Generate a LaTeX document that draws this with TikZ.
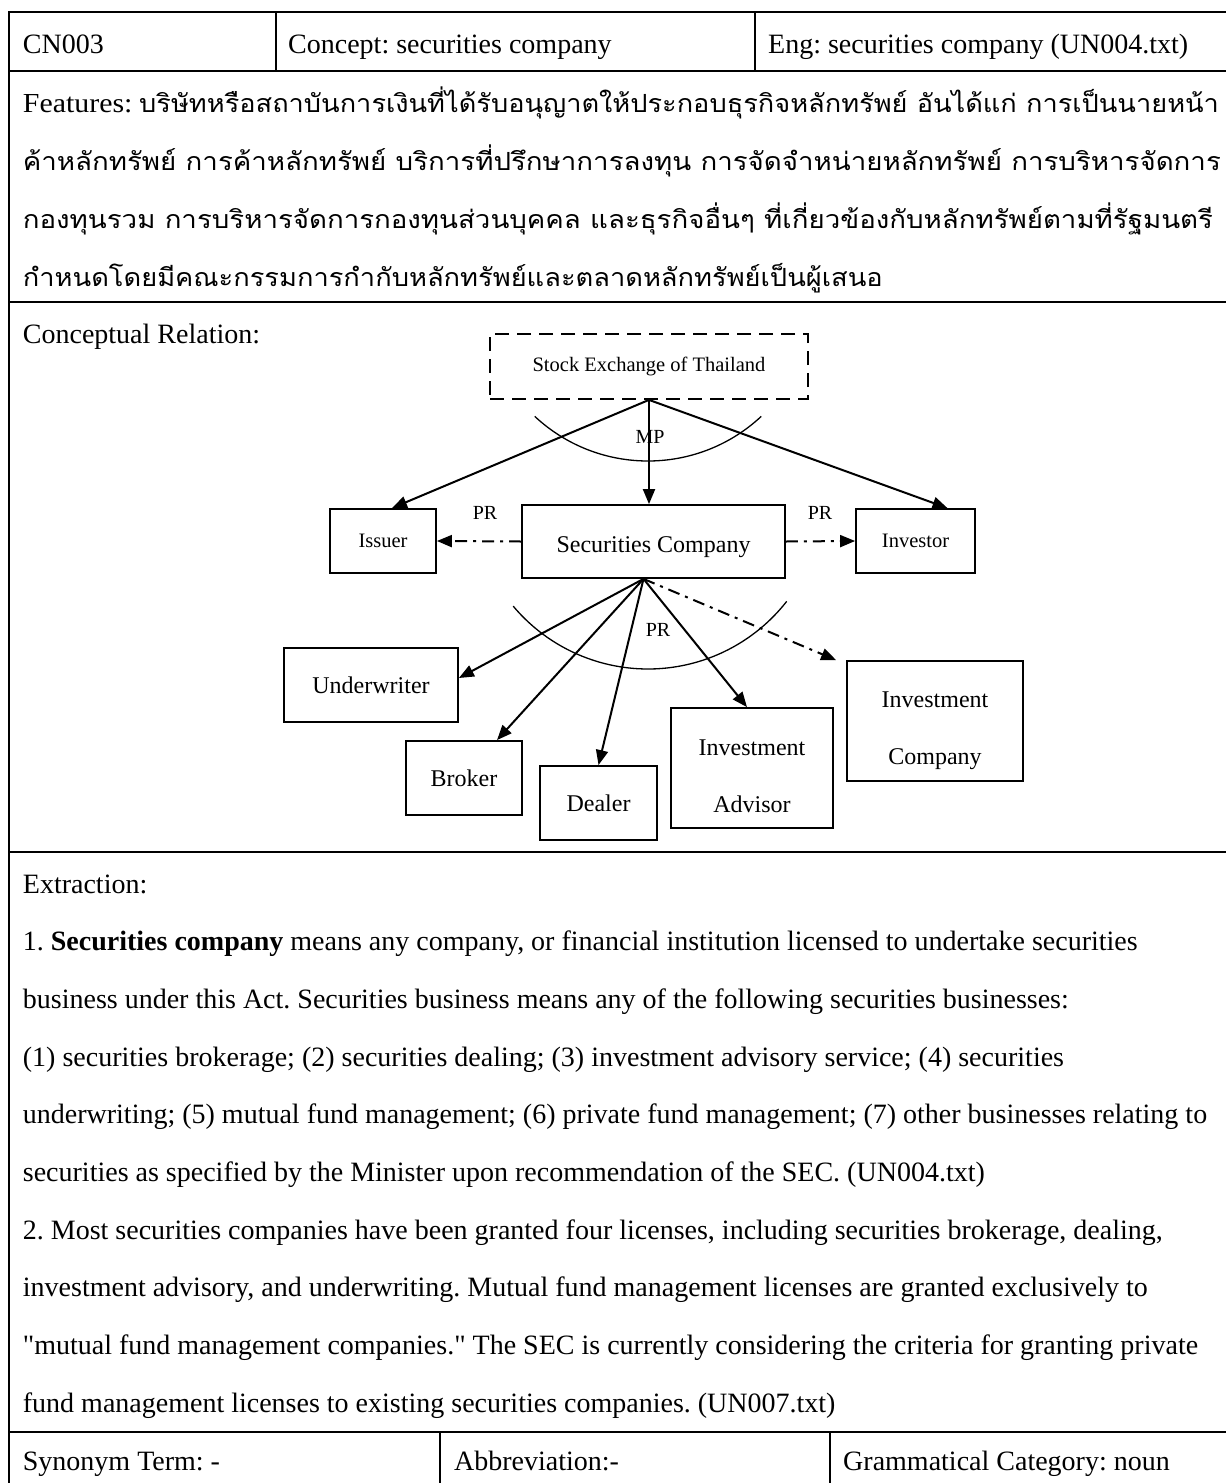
\documentclass[tikz,border=0pt]{standalone}
\usepackage{fontspec}
\usepackage{graphicx}
\setmainfont{Liberation Serif}[Ligatures=TeXOff]
\newfontfamily\thaifont[Script=Thai]{Loma}
\usetikzlibrary{arrows.meta}
\frenchspacing
\begin{document}
\begin{tikzpicture}[x=1pt,y=-1pt,
  tline/.style={line width=2.2pt},
  txt/.style={anchor=base west, inner sep=0pt, font=\fontsize{28}{33}\selectfont},
  thai/.style={anchor=base west, inner sep=0pt, font=\fontsize{25}{30}\selectfont},
  box/.style={draw, line width=1.8pt, inner sep=0pt, align=center, font=\fontsize{24}{57}\selectfont},
  sbox/.style={box, font=\fontsize{20.5}{25}\selectfont},
  btxt/.style={inner sep=0pt, align=center, font=\fontsize{24}{57}\selectfont},
  conn/.style={line width=2pt, -{Triangle[length=15pt,width=12pt]}},
  dd/.style={conn, dash pattern=on 12pt off 6pt on 3pt off 6pt},
  lbl/.style={inner sep=0pt, font=\fontsize{20}{24}\selectfont},
  arcline/.style={line width=1.3pt}
]
\useasboundingbox (0,0) rectangle (1226,1483);
% ---------- table frame ----------
\draw[tline] (9,12) -- (1230,12);
\draw[tline] (9,71) -- (1230,71);
\draw[tline] (9,302) -- (1230,302);
\draw[tline] (9,852) -- (1230,852);
\draw[tline] (9,1432) -- (1230,1432);
\draw[tline] (9,11) -- (9,1490);
\draw[tline] (276,12) -- (276,71);
\draw[tline] (755,12) -- (755,71);
\draw[tline] (440,1432) -- (440,1490);
\draw[tline] (830,1432) -- (830,1490);
% ---------- row 1 ----------
\node[txt] (cn) at (22.7,53) {CN003};
\node[txt] (concept) at (288,53) {Concept: securities company};
\node[txt] (eng) at (768,53) {Eng: securities company (UN004.txt)};
% ---------- features ----------
\node[thai] (f1) at (22.7,112) {\resizebox{1196pt}{\height}{{\fontsize{27.5}{33}\selectfont Features:} \thaifont บริษัทหรือสถาบันการเงินที่ได้รับอนุญาตให้ประกอบธุรกิจหลักทรัพย์ อันได้แก่ การเป็นนายหน้า}};
\node[thai] (f2) at (22.7,170) {\resizebox{1198pt}{\height}{\thaifont ค้าหลักทรัพย์ การค้าหลักทรัพย์ บริการที่ปรึกษาการลงทุน การจัดจำหน่ายหลักทรัพย์ การบริหารจัดการ}};
\node[thai] (f3) at (22.7,228) {\resizebox{1190pt}{\height}{\thaifont กองทุนรวม การบริหารจัดการกองทุนส่วนบุคคล และธุรกิจอื่นๆ ที่เกี่ยวข้องกับหลักทรัพย์ตามที่รัฐมนตรี}};
\node[thai] (f4) at (22.7,286) {\resizebox{860pt}{\height}{\thaifont กำหนดโดยมีคณะกรรมการกำกับหลักทรัพย์และตลาดหลักทรัพย์เป็นผู้เสนอ}};
% ---------- conceptual relation ----------
\node[txt] (cr) at (22.7,343) {Conceptual Relation:};
\node[sbox, dash pattern=on 14pt off 8pt, minimum width=318pt, minimum height=65pt] (stock) at (649,366.5) {Stock Exchange of Thailand};
\node[box, minimum width=263pt, minimum height=73pt, text height=27pt, text depth=5pt] (secco) at (653.5,541.5) {Securities Company};
\node[sbox, minimum width=106pt, minimum height=64pt] (issuer) at (383,541) {Issuer};
\node[sbox, minimum width=119pt, minimum height=64pt] (investor) at (915.5,541) {Investor};
\node[box, minimum width=174pt, minimum height=74pt] (under) at (371,685) {Underwriter};
\node[box, minimum width=116pt, minimum height=74pt] (broker) at (464,778) {Broker};
\node[box, minimum width=117pt, minimum height=74pt] (dealer) at (598.5,803) {Dealer};
\node[box, minimum width=162pt, minimum height=120pt] (advisor) at (752,768) {};
\node[btxt] (advisortext) at ([yshift=-8pt]advisor.center) {Investment\\Advisor};
\node[box, minimum width=176pt, minimum height=120pt] (invco) at (935,721) {};
\node[btxt] (invcotext) at ([yshift=-10pt]invco.center) {Investment\\Company};
% arcs
\coordinate (c1) at (648,295);
\coordinate (c2) at (648,493);
\draw[arcline] (c1) ++(133:166) arc[start angle=133, end angle=47, radius=166];
\draw[arcline] (c2) ++(140:176) arc[start angle=140, end angle=38, radius=176];
% connectors
\draw[conn] (stock.south) -- (stock.south |- secco.north);
\draw[conn] (stock.south) -- ([xshift=9pt]issuer.north);
\draw[conn] (stock.south) -- ([xshift=32pt]investor.north);
\draw[dd] (secco.west) -- (issuer.east);
\draw[dd] (secco.east) -- (investor.west);
\coordinate (fan) at ([xshift=-10pt]secco.south);
\draw[conn] (fan) -- ([yshift=7pt]under.east);
\draw[conn] (fan) -- ([xshift=33pt]broker.north);
\draw[conn] (fan) -- (dealer.north);
\draw[conn] (fan) -- ([xshift=-5pt]advisor.north);
\draw[dd] (fan) -- ([xshift=-10pt]invco.north west);
% labels
\node[lbl] (mp) at (650,437) {MP};
\node[lbl] (pr1) at (485,513) {PR};
\node[lbl] (pr2) at (820,513) {PR};
\node[lbl] (pr3) at (658,630) {PR};
% ---------- extraction ----------
\node[txt] (e0) at (22.7,893) {Extraction:};
\node[txt] (e1) at (22.7,950.7) {1. \textbf{Securities company} means any company, or financial institution licensed to undertake securities};
\node[txt] (e2) at (22.7,1008.3) {business under this Act. Securities business means any of the following securities businesses:};
\node[txt] (e3) at (22.7,1066) {(1) securities brokerage; (2) securities dealing; (3) investment advisory service; (4) securities};
\node[txt] (e4) at (22.7,1123.7) {underwriting; (5) mutual fund management; (6) private fund management; (7) other businesses relating to};
\node[txt] (e5) at (22.7,1181.3) {securities as specified by the Minister upon recommendation of the SEC. (UN004.txt)};
\node[txt] (e6) at (22.7,1239) {2. Most securities companies have been granted four licenses, including securities brokerage, dealing,};
\node[txt] (e7) at (22.7,1296.7) {investment advisory, and underwriting. Mutual fund management licenses are granted exclusively to};
\node[txt] (e8) at (22.7,1354.3) {"mutual fund management companies." The SEC is currently considering the criteria for granting private};
\node[txt] (e9) at (22.7,1412) {fund management licenses to existing securities companies. (UN007.txt)};
% ---------- bottom row ----------
\node[txt] (syn) at (22.7,1470) {Synonym Term: -};
\node[txt] (abbr) at (454,1470) {Abbreviation:-};
\node[txt] (gram) at (843,1470) {Grammatical Category: noun};
\end{tikzpicture}
\end{document}
